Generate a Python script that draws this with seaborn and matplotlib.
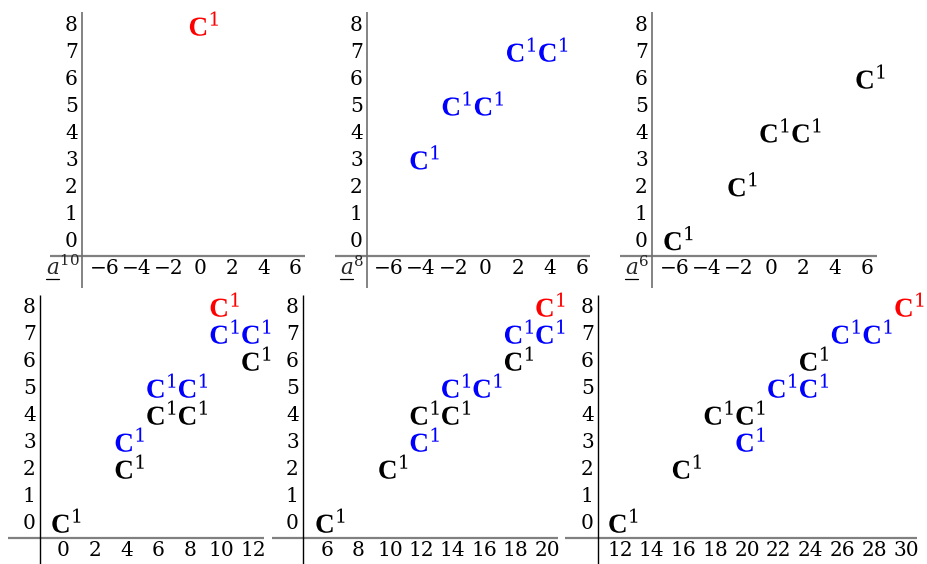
import matplotlib
matplotlib.use("Agg")
import matplotlib.pyplot as plt
from matplotlib.lines import Line2D
from matplotlib.markers import MarkerStyle
from matplotlib.transforms import Affine2D, IdentityTransform
import pandas as pd
import seaborn as sns

# ---------------------------------------------------------------------------
# Chart data: position (stem x, filtration y) and colour class of every C^1
# ---------------------------------------------------------------------------
top_powers = [10, 8, 6]
top_x = [[0], [-4, -2, 0, 2, 4], [-6, -2, 0, 2, 6]]
top_y = [[8], [3, 5, 5, 7, 7], [0, 2, 4, 4, 6]]
top_tone = [["red"], ["blue", "blue", "blue", "blue", "blue"],
            ["black", "black", "black", "black", "black"]]

bottom_x = [
    [0, 4, 4, 6, 8, 6, 8, 12, 10, 12, 10],
    [6, 10, 12, 12, 14, 14, 16, 18, 18, 20, 20],
    [12, 16, 20, 18, 20, 22, 24, 24, 26, 28, 30],
]
bottom_y = [
    [0, 2, 3, 4, 4, 5, 5, 6, 7, 7, 8],
    [0, 2, 3, 4, 4, 5, 5, 6, 7, 7, 8],
    [0, 2, 3, 4, 4, 5, 5, 6, 7, 7, 8],
]
bottom_tone = [
    ["black", "black", "blue", "black", "black", "blue", "blue", "black", "blue", "blue", "red"],
    ["black", "black", "blue", "black", "black", "blue", "blue", "black", "blue", "blue", "red"],
    ["black", "black", "blue", "black", "black", "blue", "blue", "black", "blue", "blue", "red"],
]

top_xticks = [-6, -4, -2, 0, 2, 4, 6]
bottom_xticks = [
    [0, 2, 4, 6, 8, 10, 12],
    [6, 8, 10, 12, 14, 16, 18, 20],
    [12, 14, 16, 18, 20, 22, 24, 26, 28, 30],
]
row_ticks = [0, 1, 2, 3, 4, 5, 6, 7, 8]

palette = {"black": "#000000", "blue": "#0000ff", "red": "#ff0000"}
LABEL_SIZE = 14.5

# ---------------------------------------------------------------------------
# Styling
# ---------------------------------------------------------------------------
sns.set_style("white")
plt.rcParams["font.family"] = ["DejaVu Serif"]
plt.rcParams["mathtext.fontset"] = "custom"
plt.rcParams["mathtext.rm"] = "DejaVu Serif"
plt.rcParams["mathtext.it"] = "DejaVu Serif:italic"
plt.rcParams["mathtext.bf"] = "Liberation Serif:bold"

# bold C with superscript 1; the glyph sits a touch right of the column centre
# (built after the mathtext fonts are set, since the path is made right away)
MARK = MarkerStyle(r"$\mathbf{C}^{1}$", transform=Affine2D().translate(0.12, 0.03))

W, H = 927, 564
fig = plt.figure(figsize=(W / 100, H / 100), dpi=100)
fig.patch.set_facecolor("white")

# pixel frame of each chart: left rule, right end of base rule, top, base rule
# plus data limits and where the base rule / left rule extend to
top_frame = dict(top=12, base=256, vbottom=288, ylim=(-0.63, 8.43), vcolor="#6e6e6e", vlw=1.2)
bottom_frame = dict(top=295, base=538, vbottom=564, ylim=(-0.61, 8.39), vcolor="#000000", vlw=1.0)

top_panels = [
    dict(left=82, right=305, xlim=(-7.45, 6.63), hleft=-9.47),
    dict(left=367, right=590, xlim=(-7.37, 6.50), hleft=-9.34),
    dict(left=652, right=877, xlim=(-7.44, 6.62), hleft=-9.44),
]
bottom_panels = [
    dict(left=40, right=264, xlim=(-1.45, 12.70), hleft=-3.47),
    dict(left=303, right=558, xlim=(4.47, 20.70), hleft=2.49),
    dict(left=598, right=917, xlim=(10.62, 30.69), hleft=8.54),
]


def fmt(v):
    return str(v).replace("-", "\u2212")


def make_chart(frame, panel, xs, ys, tones, xticks):
    ax = fig.add_axes([
        panel["left"] / W,
        1 - frame["base"] / H,
        (panel["right"] - panel["left"]) / W,
        (frame["base"] - frame["top"]) / H,
    ])
    ax.set_facecolor("none")
    df = pd.DataFrame({"stem": xs, "filtration": ys, "tone": tones})
    sns.scatterplot(
        data=df, x="stem", y="filtration", hue="tone", palette=palette,
        marker=MARK, s=406, linewidth=0, legend=False, ax=ax, clip_on=False,
    )
    ax.set_xlim(*panel["xlim"])
    ax.set_ylim(*frame["ylim"])
    ax.set_xticks(xticks)
    ax.set_xticklabels([fmt(v) for v in xticks])
    ax.set_yticks(row_ticks)
    ax.set_yticklabels([fmt(v) for v in row_ticks])
    ax.tick_params(axis="x", length=0, pad=2.0, labelsize=LABEL_SIZE, colors="#000000")
    ax.tick_params(axis="y", length=0, pad=3.0, labelsize=LABEL_SIZE, colors="#000000")
    ax.set_xlabel("")
    ax.set_ylabel("")
    for sp in ax.spines.values():
        sp.set_visible(False)

    # base rule under the filtration rows
    y0 = frame["ylim"][0]
    ax.plot([panel["hleft"], panel["xlim"][1]], [y0, y0], color="#808080",
            lw=1.6, clip_on=False, solid_capstyle="butt")
    # left rule beside the filtration labels
    px_per_y = (frame["base"] - frame["top"]) / (frame["ylim"][1] - frame["ylim"][0])
    ybot = y0 - (frame["vbottom"] - frame["base"]) / px_per_y
    ax.plot([panel["xlim"][0], panel["xlim"][0]], [ybot, frame["ylim"][1]],
            color=frame["vcolor"], lw=frame["vlw"], clip_on=False,
            solid_capstyle="butt")
    return ax, px_per_y


corner = []
for i in range(3):
    ax, ppy = make_chart(top_frame, top_panels[i], top_x[i], top_y[i],
                         top_tone[i], top_xticks)
    corner.append((ax, ppy, top_panels[i], top_powers[i]))

for i in range(3):
    make_chart(bottom_frame, bottom_panels[i], bottom_x[i], bottom_y[i],
               bottom_tone[i], bottom_xticks[i])

# underlined a^k in the corner cell of each top chart
fig.canvas.draw()
renderer = fig.canvas.get_renderer()
for ax, ppy, panel, k in corner:
    px_per_x = (panel["right"] - panel["left"]) / (panel["xlim"][1] - panel["xlim"][0])
    xr = panel["xlim"][0] - 2.5 / px_per_x
    yb = (239 - 275) / ppy
    lab = ax.text(xr, yb, r"$\mathit{a}^{%d}$" % k, ha="right", va="baseline",
                  fontsize=15.5, clip_on=False)
    probe = ax.text(xr, yb, r"$\mathit{a}$", ha="left", va="baseline",
                    fontsize=15.5, alpha=0)
    bb = lab.get_window_extent(renderer)
    wa = probe.get_window_extent(renderer).width
    probe.remove()
    base_disp = ax.transData.transform((xr, yb))[1]
    fig.add_artist(Line2D([bb.x0, bb.x0 + wa], [base_disp - 4, base_disp - 4],
                          transform=IdentityTransform(), color="#000000", lw=0.9))

fig.savefig("out.png", dpi=100, facecolor="white")
